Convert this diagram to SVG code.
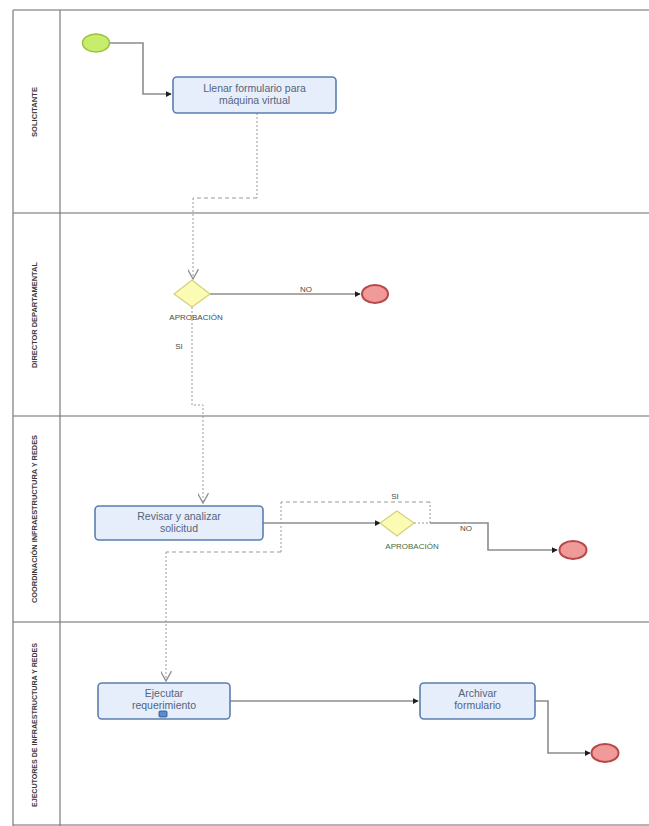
<svg xmlns="http://www.w3.org/2000/svg" width="649" height="826" viewBox="0 0 649 826">
  <style>
    .lane-h { stroke: #b4b4b4; stroke-width: 2; fill: none; }
    .lane-v { stroke: #7a7a7a; stroke-width: 1.2; fill: none; }
    .lane-label { font-family: "Liberation Sans", Arial, sans-serif; font-size: 8px; font-weight: bold; fill: #3a3a3a; }
    .task rect { fill: #e6eefb; stroke: #5a7fae; stroke-width: 1.6; }
    .task text { font-family: "Liberation Sans", Arial, sans-serif; font-size: 10.5px; fill: #55647e; text-anchor: middle; }
    .start { fill: #c8ec6c; stroke: #9cc23c; stroke-width: 1.5; }
    .end { fill: #f09a9a; stroke: #b84848; stroke-width: 2; }
    .gw { fill: #fbfbb4; stroke: #d6d07a; stroke-width: 1.2; }
    .gw-label { font-family: "Liberation Sans", Arial, sans-serif; font-size: 8px; fill: #4a4a4a; text-anchor: middle; }
    .flow { stroke: #8c8c8c; stroke-width: 1.6; fill: none; }
    .msg { stroke: #9a9a9a; stroke-width: 1.2; fill: none; stroke-dasharray: 4 3; }
    .dot { stroke: #9a9a9a; stroke-width: 1; fill: none; stroke-dasharray: 2 2; }
    .flow-label { font-family: "Liberation Sans", Arial, sans-serif; font-size: 8px; fill: #4a4a4a; text-anchor: middle; }
  </style>
  <defs>
    <marker id="arrow" viewBox="0 0 8 8" refX="7" refY="4" markerWidth="6" markerHeight="6" orient="auto" markerUnits="userSpaceOnUse">
      <path d="M0,0 L8,4 L0,8 z" fill="#1e1e1e"/>
    </marker>
    <marker id="open-arrow" viewBox="0 0 10 10" refX="9" refY="5" markerWidth="11" markerHeight="11" orient="auto" markerUnits="userSpaceOnUse">
      <path d="M0,0 L9,5 L0,10" fill="none" stroke="#8c8c8c" stroke-width="1.2"/>
    </marker>
  </defs>

  <rect width="649" height="826" fill="#ffffff"/>

  <!-- pool and lanes -->
  <g id="lanes">
    <line class="lane-h" x1="13" y1="10" x2="649" y2="10"/>
    <line class="lane-h" x1="13" y1="213" x2="649" y2="213"/>
    <line class="lane-h" x1="13" y1="416" x2="649" y2="416"/>
    <line class="lane-h" x1="13" y1="622" x2="649" y2="622"/>
    <line class="lane-h" x1="13" y1="825" x2="649" y2="825"/>
    <line class="lane-v" x1="13" y1="10" x2="13" y2="826"/>
    <line class="lane-v" x1="60" y1="10" x2="60" y2="826"/>
    <text class="lane-label" transform="translate(37,112) rotate(-90)" text-anchor="middle" textLength="50" lengthAdjust="spacingAndGlyphs">SOLICITANTE</text>
    <text class="lane-label" transform="translate(37,315) rotate(-90)" text-anchor="middle" textLength="106" lengthAdjust="spacingAndGlyphs">DIRECTOR DEPARTAMENTAL</text>
    <text class="lane-label" transform="translate(37,519) rotate(-90)" text-anchor="middle" textLength="168" lengthAdjust="spacingAndGlyphs">COORDINACIÓN INFRAESTRUCTURA Y REDES</text>
    <text class="lane-label" transform="translate(37,725) rotate(-90)" text-anchor="middle" textLength="164" lengthAdjust="spacingAndGlyphs">EJECUTORES DE INFRAESTRUCTURA Y REDES</text>
  </g>

  <!-- connectors -->
  <g id="connectors">
    <path class="flow" d="M110,43 H143 V94 H171" marker-end="url(#arrow)"/>
    <path class="dot" d="M257,113 V198"/>
    <path class="msg" d="M257,198 H193"/>
    <path class="dot" d="M193,198 V279" marker-end="url(#open-arrow)"/>
    <path class="flow" d="M210,294 H360" marker-end="url(#arrow)"/>
    <text class="flow-label" x="306" y="292">NO</text>
    <path class="dot" d="M192,307 V405 H203 V503" marker-end="url(#open-arrow)"/>
    <text class="flow-label" x="179" y="349">SI</text>
    <path class="flow" d="M263,523 H380" marker-end="url(#arrow)"/>
    <path class="dot" d="M414,523 H430 V502"/>
    <path class="msg" d="M430,502 H281"/>
    <path class="dot" d="M281,502 V552"/>
    <path class="msg" d="M281,552 H166"/>
    <path class="dot" d="M166,552 V681" marker-end="url(#open-arrow)"/>
    <text class="flow-label" x="395" y="499">SI</text>
    <path class="flow" d="M430,523 H488 V550 H557" marker-end="url(#arrow)"/>
    <text class="flow-label" x="466" y="531">NO</text>
    <path class="flow" d="M230,701 H418" marker-end="url(#arrow)"/>
    <path class="flow" d="M535,701 H548 V753 H590" marker-end="url(#arrow)"/>
  </g>

  <!-- nodes -->
  <g id="start">
    <ellipse class="start" cx="96" cy="43" rx="13.5" ry="9"/>
  </g>
  <g id="task-llenar" class="task">
    <rect x="173" y="77" width="163" height="36" rx="4"/>
    <text x="254.5" y="92">Llenar formulario para</text>
    <text x="254.5" y="104">máquina virtual</text>
  </g>
  <g id="gateway-director">
    <polygon class="gw" points="192,280 210,294 192,307 174,294"/>
    <text class="gw-label" x="196" y="320">APROBACIÓN</text>
  </g>
  <g id="end-director">
    <ellipse class="end" cx="375" cy="294" rx="13" ry="9"/>
  </g>
  <g id="task-revisar" class="task">
    <rect x="95" y="506" width="168" height="34" rx="4"/>
    <text x="179" y="520">Revisar y analizar</text>
    <text x="179" y="532">solicitud</text>
  </g>
  <g id="gateway-coordinacion">
    <polygon class="gw" points="397,511 414,523 397,536 380,523"/>
    <text class="gw-label" x="412" y="549" style="fill:#4c6a3c">APROBACIÓN</text>
  </g>
  <g id="end-coordinacion">
    <ellipse class="end" cx="573" cy="550" rx="13.5" ry="9"/>
  </g>
  <g id="task-ejecutar" class="task">
    <rect x="98" y="683" width="132" height="36" rx="4"/>
    <text x="164" y="697">Ejecutar</text>
    <text x="164" y="709">requerimiento</text>
    <rect x="159" y="711" width="8" height="6" rx="1" style="fill:#5a8ad0;stroke:#2a4a80;stroke-width:0.8"/>
  </g>
  <g id="task-archivar" class="task">
    <rect x="420" y="683" width="115" height="36" rx="4"/>
    <text x="477.5" y="697">Archivar</text>
    <text x="477.5" y="709">formulario</text>
  </g>
  <g id="end-ejecutores">
    <ellipse class="end" cx="605" cy="753" rx="13.5" ry="9"/>
  </g>
</svg>
